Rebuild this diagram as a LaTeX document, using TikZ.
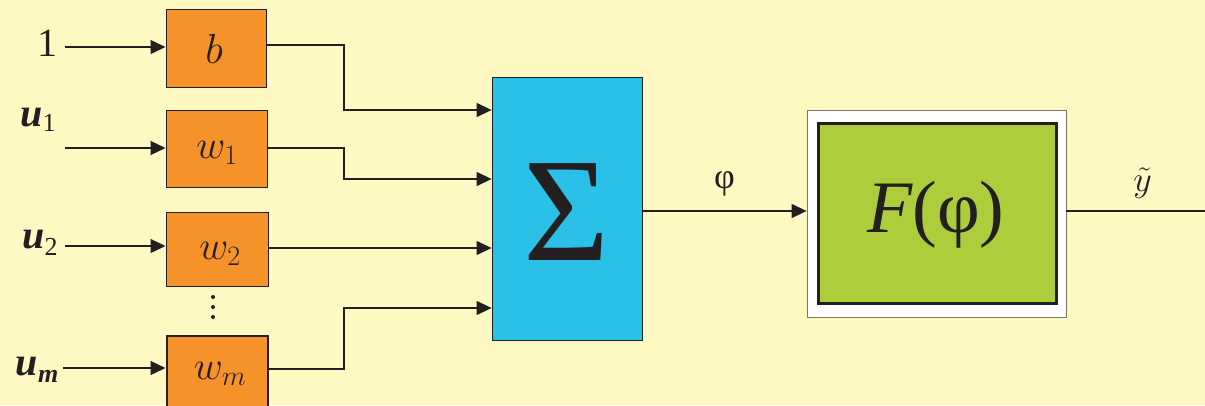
\documentclass[tikz,border=0pt]{standalone}
\usepackage{fix-cm}
\usepackage{fontspec}
\newfontfamily\tms{Liberation Serif}
\usetikzlibrary{arrows.meta,calc}
\definecolor{bgc}{HTML}{FEF9C3}
\definecolor{orng}{HTML}{F6922A}
\definecolor{cyn}{HTML}{2AC0E8}
\definecolor{grn}{HTML}{ADCD3C}
\definecolor{ink}{HTML}{231F20}
\tikzset{
  wbox/.style={draw=ink,line width=1pt,fill=orng,inner sep=0pt},
  arr/.style={draw=ink,line width=1.3pt,-{Triangle[length=15pt,width=14pt]}},
  ln/.style={draw=ink,line width=1.3pt},
  lab/.style={text=ink,inner sep=0pt},
}
\begin{document}
\begin{tikzpicture}[x=1pt,y=-1pt]
\fill[bgc] (0,0) rectangle (1205,405);
\useasboundingbox (0,0) rectangle (1205,405);
\begin{scope}
\clip (0,0) rectangle (1205,405);
% weight boxes
\node[wbox,minimum width=100pt,minimum height=78pt] (b) at (216,48) {};
\node[wbox,minimum width=101pt,minimum height=77pt] (w1) at (216.5,148.5) {};
\node[wbox,minimum width=102pt,minimum height=74pt] (w2) at (217,249) {};
\node[wbox,line width=2pt,minimum width=101pt,minimum height=76pt] (wm) at (217,374) {};
\node[lab] (tb) at (214,49) {\fontsize{42}{46}\selectfont$b$};
\node[lab] (tw1) at (217,153) {\fontsize{40}{46}\selectfont$w_1$};
\node[lab] (tw2) at (220,254) {\fontsize{40}{46}\selectfont$w_2$};
\node[lab] (twm) at (220,374) {\fontsize{40}{46}\selectfont$w_m$};
\foreach \yy in {297,307,317} \fill[ink] (213,\yy) circle (2pt);
% inputs
\node[lab] (l1) at (47,43) {\fontsize{40}{44}\selectfont\tms 1};
\node[lab] (lu1) at (38,120) {\fontsize{40}{44}\selectfont\tms\bfseries\itshape u\raisebox{-5pt}{\fontsize{26}{30}\selectfont\upshape\mdseries 1}};
\node[lab] (lu2) at (40,243) {\fontsize{40}{44}\selectfont\tms\bfseries\itshape u\raisebox{-7pt}{\fontsize{26}{30}\selectfont\upshape\mdseries 2}};
\node[lab] (lum) at (37,370) {\fontsize{40}{44}\selectfont\tms\bfseries\itshape u\raisebox{-7pt}{\fontsize{26}{30}\selectfont m}};
\coordinate (i1) at (65,47);
\coordinate (i2) at (65,148);
\coordinate (i3) at (65,246);
\coordinate (i4) at (63,368);
\draw[arr] (i1) -- (i1 -| b.west);
\draw[arr] (i2) -- (i2 -| w1.west);
\draw[arr] (i3) -- (i3 -| w2.west);
\draw[arr] (i4) -- (i4 -| wm.west);
% summation
\node[draw=ink,line width=0.8pt,fill=cyn,minimum width=150pt,minimum height=263pt,inner sep=0pt] (S) at (567,208.5) {};
\node[lab] (sig) at (567,212) {\fontsize{148}{150}\selectfont\tms Σ};
\draw[arr] (b.east |- 0,45) -- (344,45) |- (S.west |- 0,110);
\draw[arr] (w1.east |- 0,148) -- (344,148) |- (S.west |- 0,179);
\draw[arr] (w2.east |- 0,248) -- (S.west |- 0,248);
\draw[arr] (wm.east |- 0,369) -- (344,369) |- (S.west |- 0,308);
% activation
\node[draw=ink!60!bgc,line width=0.8pt,fill=white,minimum width=259pt,minimum height=207pt,inner sep=0pt] (Fo) at (936.5,213.5) {};
\node[draw=ink,line width=2.5pt,fill=grn,minimum width=238pt,minimum height=180pt,inner sep=0pt] (F) at (937.5,213.5) {};
\node[lab] (tF) at (936,215) {\fontsize{74}{80}\selectfont\tms\itshape F\upshape(φ)};
\draw[arr] (S.east |- 0,211) -- node[lab,above=14pt] (phi) {\fontsize{36}{40}\selectfont\tms φ} (Fo.west |- 0,211);
\coordinate (out) at (1205,211);
\draw[ln] (Fo.east |- out) -- node[lab,above=12pt,pos=0.55] (ty) {\fontsize{36}{40}\selectfont$\tilde{y}$} (out);
\end{scope}
\end{tikzpicture}
\end{document}
